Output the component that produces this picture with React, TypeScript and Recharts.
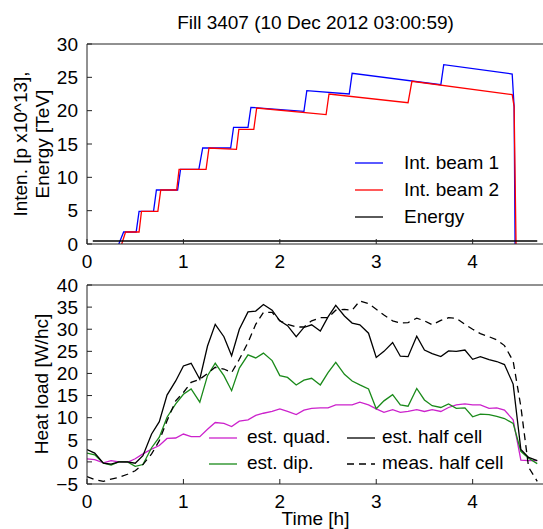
import { Line, LineChart, XAxis, YAxis } from "recharts";

const FONT = '"Liberation Sans", Arial, Helvetica, sans-serif';
const INK = "#000";
const FRAME = "#222";
const FS = 19;

// shared time axis [h]
const T_DOMAIN: [number, number] = [0, 4.74];
const T_TICKS = [0, 1, 2, 3, 4];

// upper panel: beam intensities [1e13 p] and energy [TeV]
const B1_T = [0.33, 0.38, 0.51, 0.54, 0.69, 0.72, 0.94, 0.97, 1.16, 1.2, 1.49, 1.52, 1.67, 1.7, 2.25, 2.28, 2.72, 2.75, 3.67, 3.7, 4.41, 4.43, 4.44];
const B1_V = [0, 1.8, 1.8, 4.9, 4.9, 8.1, 8.1, 11.2, 11.2, 14.4, 14.4, 17.5, 17.5, 20.5, 19.9, 23.0, 22.5, 25.6, 23.9, 26.9, 25.5, 20.6, 0];
const B2_T = [0.36, 0.4, 0.54, 0.565, 0.735, 0.765, 0.93, 0.955, 1.235, 1.265, 1.55, 1.575, 1.73, 1.76, 2.48, 2.51, 3.33, 3.37, 4.41, 4.43, 4.45];
const B2_V = [0, 1.8, 1.8, 4.9, 4.9, 8.1, 8.1, 11.2, 11.2, 14.4, 14.2, 17.2, 17.2, 20.4, 19.4, 22.5, 21.2, 24.4, 22.4, 20.6, 0];
const EN_T = [0.06, 4.67];
const EN_V = [0.45, 0.45];
const INT_TICKS = [0, 5, 10, 15, 20, 25, 30];

// lower panel: heat load [W/hc]
const HOURS = [
  0, 0.08, 0.17, 0.25, 0.33, 0.42, 0.5, 0.58, 0.67, 0.75, 0.83, 0.92,
  1.0, 1.08, 1.17, 1.25, 1.33, 1.42, 1.5, 1.58, 1.67, 1.75, 1.83, 1.92,
  2.0, 2.08, 2.17, 2.25, 2.33, 2.42, 2.5, 2.58, 2.67, 2.75, 2.83, 2.92,
  3.0, 3.08, 3.17, 3.25, 3.33, 3.42, 3.5, 3.58, 3.67, 3.75, 3.83, 3.92,
  4.0, 4.08, 4.17, 4.25, 4.33, 4.42, 4.5, 4.58, 4.67,
];
const QUAD = [
  0.7, 0.5, -0.2, 0.3, 0, -0.1, 0.7, 1.8, 2.9, 3.7, 5.3, 5.4,
  6.3, 5.7, 5.7, 7.4, 8.9, 8.7, 8.0, 9.2, 9.5, 10.5, 11.0, 11.4,
  12.0, 11.4, 10.7, 11.7, 12.1, 12.2, 12.2, 12.9, 12.9, 12.9, 13.5, 12.9,
  12.0, 11.2, 11.8, 11.2, 11.4, 11.8, 11.4, 11.8, 11.4, 12.3, 12.9, 13.1,
  12.9, 12.9, 12.1, 12.2, 11.7, 9.5, 0.4, 0.3, 0.3,
];
const DIP = [
  2.0, 1.6, -0.3, -0.7, 0, 0, -1.0, -0.6, 3.2, 5.6, 10.1, 13.1,
  15.3, 16.5, 13.5, 19.5, 22.3, 19.5, 16.1, 21.2, 24.2, 23.5, 24.6, 22.9,
  19.5, 19.1, 17.4, 18.5, 18.9, 17.4, 20.2, 22.5, 19.8, 18.3, 17.4, 16.5,
  12.0, 13.8, 15.2, 12.9, 12.6, 16.6, 14.0, 12.7, 12.3, 13.1, 12.1, 12.2,
  10.2, 10.8, 10.7, 10.3, 9.8, 8.7, 2.4, 0.8, -0.4,
];
const HALF = [
  2.8, 2.0, -0.3, -0.5, 0, 0, -0.3, 1.4, 6.3, 9.1, 15.1, 18.3,
  21.7, 22.3, 18.7, 26.2, 31.1, 28.3, 24.0, 30.0, 33.9, 34.1, 35.6, 34.3,
  31.9, 30.8, 28.3, 30.4, 31.0, 29.6, 32.8, 35.4, 33.0, 31.4, 31.0, 29.1,
  23.6, 25.0, 27.0, 23.9, 23.8, 28.4, 25.3, 24.5, 23.8, 25.1, 25.0, 25.3,
  23.2, 23.8, 23.1, 22.7, 22.0, 17.6, 2.8, 1.0, 0.3,
];
const MEAS = [
  -3.3, -4.0, -4.4, -3.9, -3.5, -2.8, -2.0, -0.6, 1.8, 4.8, 9.3, 13.8,
  15.7, 18.0, 18.7, 20.0, 21.4, 21.0, 20.2, 23.2, 27.0, 31.1, 33.8, 33.8,
  31.9, 31.1, 30.5, 30.5, 31.9, 32.6, 32.6, 34.3, 34.5, 34.3, 36.4, 35.8,
  34.5, 33.2, 31.9, 31.4, 31.5, 32.5, 31.9, 31.0, 32.0, 32.6, 32.5, 31.1,
  30.0, 29.0, 28.3, 27.6, 26.3, 22.8, 12.5, -1.2, -4.4,
];
const HL_TICKS = [-5, 0, 5, 10, 15, 20, 25, 30, 35, 40];

const pts = (ts: number[], vs: number[]) => ts.map((t, i) => ({ t, v: vs[i] }));

const heat = HOURS.map((t, i) => ({ t, quad: QUAD[i], dip: DIP[i], half: HALF[i], meas: MEAS[i] }));

const tickStyle = { fill: INK, fontSize: FS, fontFamily: FONT };
const minus = (v: number) => (v < 0 ? "\u2212" + Math.abs(v) : String(v));

function Key({ x, textX, y, color, dash, label }: { x: number; textX: number; y: number; color: string; dash?: string; label: string }) {
  return (
    <>
      <svg style={{ position: "absolute", left: x, top: y - 2 }} width={28} height={4}>
        <line x1={0} x2={28} y1={2} y2={2} stroke={color} strokeWidth={1.3} strokeDasharray={dash} />
      </svg>
      <span style={{ position: "absolute", left: textX, top: y - 11.5, lineHeight: "22px", fontSize: FS, whiteSpace: "nowrap" }}>
        {label}
      </span>
    </>
  );
}

export default function App() {
  return (
    <div style={{ position: "absolute", left: 0, top: 0, width: 543, height: 529, overflow: "hidden", background: "#fff", fontFamily: FONT, color: INK }}>
      <div style={{ position: "absolute", left: 0, top: 0 }}>
        <LineChart width={560} height={280} margin={{ top: 43, right: 15, bottom: 0, left: 0 }}>
          <XAxis xAxisId="b" dataKey="t" type="number" domain={T_DOMAIN} ticks={T_TICKS} allowDataOverflow interval={0}
            height={36} tickSize={-5} tickMargin={16} stroke={FRAME} tick={tickStyle} />
          <XAxis xAxisId="top" orientation="top" dataKey="t" type="number" domain={T_DOMAIN} ticks={T_TICKS} allowDataOverflow
            height={1} tickSize={-5} tick={false} stroke={FRAME}
            label={{ value: "Fill 3407 (10 Dec 2012 03:00:59)", position: "top", offset: 14, fill: INK, fontSize: FS, fontFamily: FONT }} />
          <YAxis yAxisId="l" type="number" domain={[0, 30]} ticks={INT_TICKS} allowDataOverflow interval={0} width={87}
            tickSize={-5} tickMargin={14} stroke={FRAME} tick={tickStyle}
            label={{
              content: () => (
                <text transform="translate(26.5,144) rotate(-90)" textAnchor="middle" fontSize={FS} fontFamily={FONT} fill={INK}>
                  <tspan x={0} y={0}>Inten. [p x10^13],</tspan>
                  <tspan x={0} y={22.5}>Energy [TeV]</tspan>
                </text>
              ),
            }} />
          <YAxis yAxisId="r" orientation="right" type="number" domain={[0, 30]} ticks={INT_TICKS} allowDataOverflow width={1}
            tickSize={-5} tick={false} stroke={FRAME} />
          <Line xAxisId="b" yAxisId="l" data={pts(B1_T, B1_V)} dataKey="v" stroke="#0000ff" strokeWidth={1.3} dot={false} isAnimationActive={false} />
          <Line xAxisId="b" yAxisId="l" data={pts(B2_T, B2_V)} dataKey="v" stroke="#ff0000" strokeWidth={1.3} dot={false} isAnimationActive={false} />
          <Line xAxisId="b" yAxisId="l" data={pts(EN_T, EN_V)} dataKey="v" stroke="#000" strokeWidth={1.3} dot={false} isAnimationActive={false} />
        </LineChart>
      </div>

      <div style={{ position: "absolute", left: 0, top: 260 }}>
        <LineChart width={560} height={269} data={heat} margin={{ top: 24, right: 15, bottom: 0, left: 0 }}>
          <XAxis xAxisId="b" dataKey="t" type="number" domain={T_DOMAIN} ticks={T_TICKS} allowDataOverflow interval={0}
            height={45} tickSize={-5} tickMargin={16} stroke={FRAME} tick={tickStyle}
            label={{ value: "Time [h]", position: "insideBottom", offset: 4, fill: INK, fontSize: FS, fontFamily: FONT }} />
          <XAxis xAxisId="top" orientation="top" dataKey="t" type="number" domain={T_DOMAIN} ticks={T_TICKS} allowDataOverflow
            height={1} tickSize={-5} tick={false} stroke={FRAME} />
          <YAxis yAxisId="l" type="number" domain={[-5, 40]} ticks={HL_TICKS} allowDataOverflow interval={0} width={87}
            tickSize={-5} tickMargin={14} stroke={FRAME} tick={tickStyle} tickFormatter={minus}
            label={{
              content: () => (
                <text transform="translate(48,124) rotate(-90)" textAnchor="middle" fontSize={FS} fontFamily={FONT} fill={INK}>
                  Heat load [W/hc]
                </text>
              ),
            }} />
          <YAxis yAxisId="r" orientation="right" type="number" domain={[-5, 40]} ticks={HL_TICKS} allowDataOverflow width={1}
            tickSize={-5} tick={false} stroke={FRAME} />
          <Line xAxisId="b" yAxisId="l" dataKey="quad" stroke="#cc22cc" strokeWidth={1.3} dot={false} isAnimationActive={false} />
          <Line xAxisId="b" yAxisId="l" dataKey="dip" stroke="#1a8a1a" strokeWidth={1.3} dot={false} isAnimationActive={false} />
          <Line xAxisId="b" yAxisId="l" dataKey="half" stroke="#000" strokeWidth={1.3} dot={false} isAnimationActive={false} />
          <Line xAxisId="b" yAxisId="l" dataKey="meas" stroke="#000" strokeWidth={1.3} strokeDasharray="7 5" dot={false} isAnimationActive={false} />
        </LineChart>
      </div>

      <Key x={355} textX={404} y={163} color="#0000ff" label="Int. beam 1" />
      <Key x={355} textX={404} y={190} color="#ff0000" label="Int. beam 2" />
      <Key x={355} textX={404} y={217} color="#000" label="Energy" />

      <Key x={209} textX={247} y={437.5} color="#cc22cc" label="est. quad." />
      <Key x={209} textX={247} y={463.5} color="#1a8a1a" label="est. dip." />
      <Key x={347} textX={382} y={437.5} color="#000" label="est. half cell" />
      <Key x={347} textX={382} y={463.5} color="#000" dash="7 5" label="meas. half cell" />
    </div>
  );
}
